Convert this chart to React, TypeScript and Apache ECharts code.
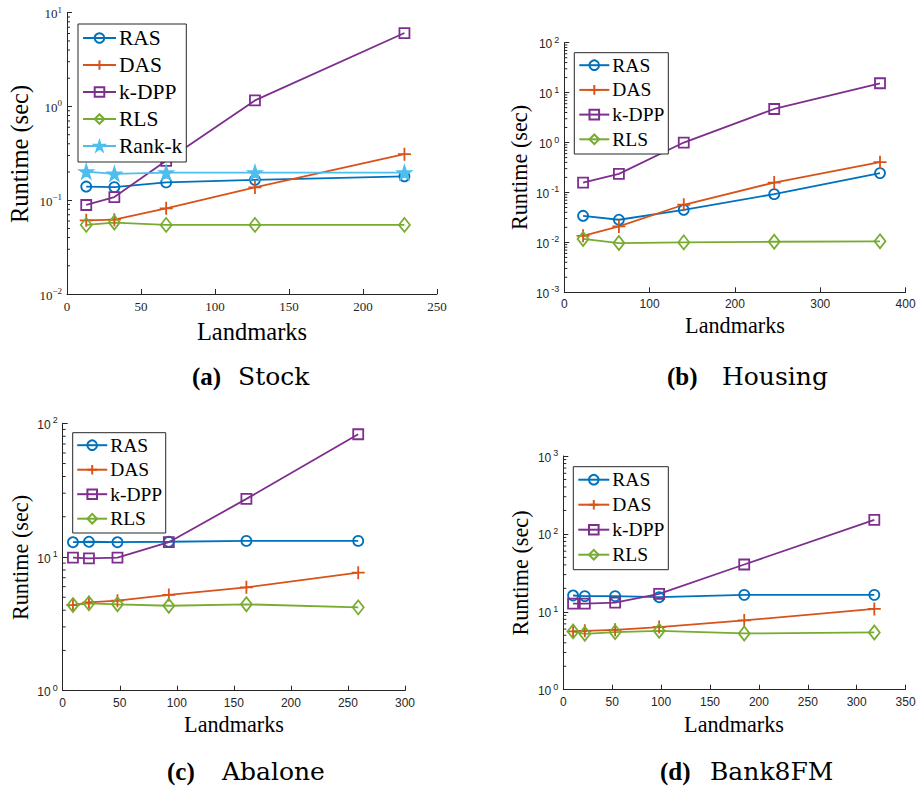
import React, { useEffect, useRef } from "react";
import * as echarts from "echarts";

// ---------- data ----------
const stockX = [13, 32, 67, 127, 228];
const stockRAS = [0.14, 0.138, 0.155, 0.165, 0.18];
const stockDAS = [0.061, 0.062, 0.082, 0.137, 0.31];
const stockKDPP = [0.089, 0.108, 0.263, 1.16, 6.07];
const stockRLS = [0.0546, 0.0578, 0.0546, 0.0546, 0.0546];
const stockRankK = [0.202, 0.191, 0.197, 0.197, 0.197];

const housingX = [22, 64, 140, 246, 370];
const housingRAS = [0.0341, 0.0284, 0.045, 0.0926, 0.244];
const housingDAS = [0.0135, 0.0209, 0.0567, 0.158, 0.404];
const housingKDPP = [0.158, 0.236, 1.0, 4.7, 15.4];
const housingRLS = [0.0117, 0.0097, 0.01, 0.0103, 0.0105];

const abaloneX = [9, 23, 48, 93, 161, 259];
const abaloneRAS = [12.9, 13.0, 12.9, 13.0, 13.2, 13.2];
const abaloneDAS = [4.37, 4.58, 4.71, 5.2, 5.93, 7.63];
const abaloneKDPP = [9.89, 9.77, 9.89, 12.9, 27.2, 82.8];
const abaloneRLS = [4.37, 4.5, 4.43, 4.32, 4.43, 4.2];

const bankX = [10, 22, 53, 98, 185, 318];
const bankRAS = [16.2, 15.9, 15.9, 15.4, 16.5, 16.5];
const bankDAS = [5.6, 5.7, 5.87, 6.36, 7.74, 10.9];
const bankKDPP = [12.7, 12.7, 13.1, 17.0, 40.5, 151];
const bankRLS = [5.6, 5.22, 5.48, 5.7, 5.27, 5.43];

const captionTags = ["(a)", "(b)", "(c)", "(d)"];
const captionNames = ["Stock", "Housing", "Abalone", "Bank8FM"];
const xTitle = "Landmarks";
const yTitle = "Runtime (sec)";

// ---------- styling ----------
const COLORS: Record<string, string> = {
  RAS: "#0072BD",
  DAS: "#D95319",
  "k-DPP": "#7E2F8E",
  RLS: "#77AC30",
  "Rank-k": "#4DBEEE",
};
const STAR =
  "path://M50,0 L61.2,34.5 L97.6,34.5 L68.2,55.9 L79.4,90.5 L50,69.1 L20.6,90.5 L31.8,55.9 L2.4,34.5 L38.8,34.5 Z";
const PLUS = "path://M6,0 L6,12 M0,6 L12,6";
const SYMBOLS: Record<string, any> = {
  RAS: { symbol: "circle", size: 10, fill: false },
  DAS: { symbol: PLUS, size: 13, fill: false },
  "k-DPP": { symbol: "rect", size: 10, fill: false },
  RLS: { symbol: "diamond", size: [11, 14], fill: false },
  "Rank-k": { symbol: STAR, size: 13, fill: true },
};

const AX = "#262626";
const SERIF = "Liberation Serif";

const layouts = [
  {
    grid: { left: 67, top: 12.7, width: 370, height: 281.3 },
    xMax: 250, xInterval: 50, yMin: 0.01, yMax: 10,
    serifTicks: true,
    legend: { left: 78, top: 24, fontSize: 21.5, lineHeight: 20, itemGap: 5, itemWidth: 33, padding: [3, 4, 5, 4] },
    xTitlePos: [252, 331], yTitlePos: [19, 154], titleSize: 24.5,
    caption: { tagX: 192, wordX: 238, y: 376 },
  },
  {
    grid: { left: 564.3, top: 42.7, width: 341.3, height: 249.6 },
    xMax: 400, xInterval: 100, yMin: 0.001, yMax: 100,
    serifTicks: false,
    legend: { left: 574.3, top: 52.7, fontSize: 19.5, lineHeight: 18, itemGap: 4.7, itemWidth: 30, padding: [2.5, 4, 4.7, 4] },
    xTitlePos: [735, 325], yTitlePos: [519, 167.5], titleSize: 22.2,
    caption: { tagX: 667, wordX: 722, y: 376 },
  },
  {
    grid: { left: 62.7, top: 423.3, width: 342.3, height: 267.4 },
    xMax: 300, xInterval: 50, yMin: 1, yMax: 100,
    serifTicks: false,
    legend: { left: 72.7, top: 432.7, fontSize: 19.5, lineHeight: 18, itemGap: 4.5, itemWidth: 30, padding: [2.5, 3.5, 4.3, 3.5] },
    xTitlePos: [234, 724], yTitlePos: [20, 557.5], titleSize: 22.2,
    caption: { tagX: 167, wordX: 222, y: 771 },
  },
  {
    grid: { left: 563.3, top: 456, width: 342.3, height: 233.7 },
    xMax: 350, xInterval: 50, yMin: 1, yMax: 1000,
    serifTicks: false,
    legend: { left: 573.3, top: 466.7, fontSize: 19.5, lineHeight: 18, itemGap: 5, itemWidth: 31, padding: [3, 4, 5, 4] },
    xTitlePos: [734, 724], yTitlePos: [520, 573], titleSize: 22.2,
    caption: { tagX: 660, wordX: 710, y: 771 },
  },
];

const panelData = [
  { x: stockX, series: { RAS: stockRAS, DAS: stockDAS, "k-DPP": stockKDPP, RLS: stockRLS, "Rank-k": stockRankK } as Record<string, number[]> },
  { x: housingX, series: { RAS: housingRAS, DAS: housingDAS, "k-DPP": housingKDPP, RLS: housingRLS } as Record<string, number[]> },
  { x: abaloneX, series: { RAS: abaloneRAS, DAS: abaloneDAS, "k-DPP": abaloneKDPP, RLS: abaloneRLS } as Record<string, number[]> },
  { x: bankX, series: { RAS: bankRAS, DAS: bankDAS, "k-DPP": bankKDPP, RLS: bankRLS } as Record<string, number[]> },
];

function minorTickValues(min: number, max: number) {
  const out: number[][] = [];
  for (let e = Math.round(Math.log10(min)); e < Math.round(Math.log10(max)); e++) {
    for (let m = 2; m <= 9; m++) out.push([0, m * Math.pow(10, e)]);
  }
  return out;
}

function buildOption() {
  const grid: any[] = [];
  const xAxis: any[] = [];
  const yAxis: any[] = [];
  const legend: any[] = [];
  const series: any[] = [];
  const graphic: any[] = [];

  layouts.forEach((L, i) => {
    const tickFont = L.serifTicks ? SERIF : "Liberation Sans";
    const tickSize = L.serifTicks ? 13 : 12;
    const minus = L.serifTicks ? "\u2212" : "-";
    grid.push({ ...L.grid, containLabel: false });
    xAxis.push({
      gridIndex: i,
      type: "value",
      min: 0,
      max: L.xMax,
      interval: L.xInterval,
      axisLine: { show: true, onZero: false, lineStyle: { color: AX, width: 1 } },
      axisTick: { show: true, inside: true, length: 5, lineStyle: { color: AX } },
      splitLine: { show: false },
      axisLabel: { margin: 6, color: AX, fontFamily: tickFont, fontSize: tickSize },
    });
    yAxis.push({
      gridIndex: i,
      type: "log",
      logBase: 10,
      min: L.yMin,
      max: L.yMax,
      axisLine: { show: true, onZero: false, lineStyle: { color: AX, width: 1 } },
      axisTick: { show: true, inside: true, length: 5, lineStyle: { color: AX } },
      splitLine: { show: false },
      axisLabel: {
        margin: 5,
        color: AX,
        formatter: (v: number) => {
          const e = Math.round(Math.log10(v));
          const s = e < 0 ? minus + Math.abs(e) : String(e);
          return "{b|10}{s|" + s + "}";
        },
        rich: {
          b: { fontFamily: tickFont, fontSize: tickSize, color: AX, verticalAlign: "bottom", lineHeight: 15 },
          s: {
            fontFamily: tickFont, fontSize: 9, color: AX, verticalAlign: "top", lineHeight: 15,
            padding: L.serifTicks ? [0, 0, 0, 0] : [0, 0, 0, 2],
          },
        },
      },
    });

    const D = panelData[i];
    const names = Object.keys(D.series);
    legend.push({
      orient: "vertical",
      left: L.legend.left,
      top: L.legend.top,
      padding: L.legend.padding,
      itemGap: L.legend.itemGap,
      itemWidth: L.legend.itemWidth,
      itemHeight: 12,
      backgroundColor: "#ffffff",
      borderColor: AX,
      borderWidth: 1,
      borderRadius: 0,
      selectedMode: false,
      data: names,
      textStyle: {
        fontFamily: SERIF,
        fontSize: L.legend.fontSize,
        lineHeight: L.legend.lineHeight,
        color: "#000",
        padding: [0, 0, 0, -2],
      },
    });

    names.forEach((name) => {
      const c = COLORS[name];
      const S = SYMBOLS[name];
      series.push({
        type: "line",
        name,
        xAxisIndex: i,
        yAxisIndex: i,
        data: D.x.map((xv, k) => [xv, D.series[name][k]]),
        symbol: S.symbol,
        symbolSize: S.size,
        showAllSymbol: true,
        lineStyle: { color: c, width: 1.8 },
        itemStyle: {
          color: S.fill ? c : "rgba(255,255,255,0)",
          borderColor: c,
          borderWidth: 1.8,
        },
        emphasis: { disabled: true },
        z: 3,
      });
    });

    series.push({
      type: "custom",
      name: "minor-" + i,
      xAxisIndex: i,
      yAxisIndex: i,
      silent: true,
      clip: false,
      z: 1,
      data: minorTickValues(L.yMin, L.yMax),
      renderItem: (params: any, api: any) => {
        const p = api.coord([api.value(0), api.value(1)]);
        return {
          type: "line",
          shape: { x1: p[0], y1: p[1], x2: p[0] + 3, y2: p[1] },
          style: { stroke: AX, lineWidth: 1 },
        };
      },
    });

    const textStyleBase = {
      fill: "#000",
      textAlign: "center",
      textVerticalAlign: "middle",
      align: "center",
      verticalAlign: "middle",
    };
    graphic.push({
      type: "text",
      x: L.xTitlePos[0],
      y: L.xTitlePos[1],
      style: { ...textStyleBase, text: xTitle, fontFamily: SERIF, fontSize: L.titleSize },
    });
    graphic.push({
      type: "text",
      x: L.yTitlePos[0],
      y: L.yTitlePos[1],
      rotation: Math.PI / 2,
      style: { ...textStyleBase, text: yTitle, fontFamily: SERIF, fontSize: L.titleSize },
    });
    graphic.push({
      type: "text",
      x: L.caption.tagX,
      y: L.caption.y,
      style: {
        ...textStyleBase,
        text: captionTags[i],
        fontFamily: SERIF,
        fontWeight: "bold",
        fontSize: 25,
        textAlign: "left",
        align: "left",
      },
    });
    graphic.push({
      type: "text",
      x: L.caption.wordX,
      y: L.caption.y,
      style: {
        ...textStyleBase,
        text: captionNames[i],
        fontFamily: "DejaVu Serif",
        fontSize: 25,
        textAlign: "left",
        align: "left",
      },
    });
  });

  return {
    animation: false,
    backgroundColor: "#ffffff",
    grid,
    xAxis,
    yAxis,
    legend,
    series,
    graphic,
  };
}

export default function App() {
  const ref = useRef<HTMLDivElement>(null);
  useEffect(() => {
    if (!ref.current) return;
    const chart = echarts.init(ref.current, undefined, { renderer: "svg" });
    chart.setOption(buildOption() as any);
    return () => chart.dispose();
  }, []);
  return (
    <div
      ref={ref}
      style={{ position: "fixed", left: 0, top: 0, width: 921, height: 789, background: "#fff" }}
    />
  );
}
